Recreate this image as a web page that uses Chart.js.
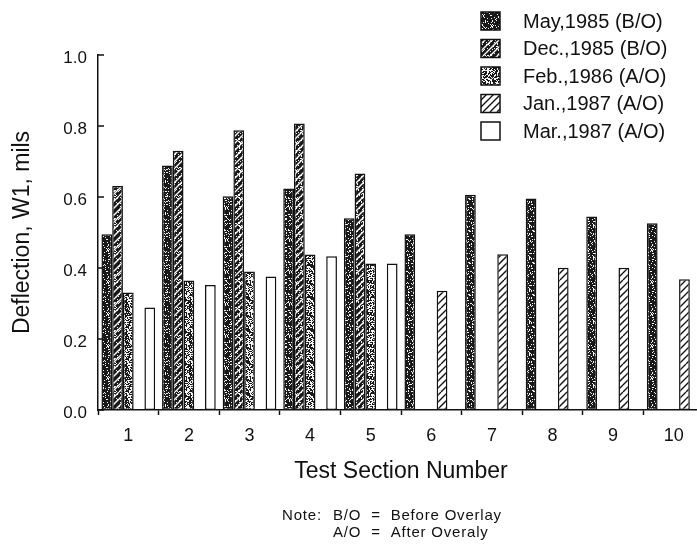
<!DOCTYPE html>
<html>
<head>
<meta charset="utf-8">
<script src="https://cdn.jsdelivr.net/npm/chart.js@4/dist/chart.umd.min.js"></script>
<style>
  html, body { margin: 0; padding: 0; background: #fff; overflow: hidden; }
  #wrap { position: relative; width: 704px; height: 548px; }
</style>
</head>
<body>
<div id="wrap"><canvas id="deflection-chart"></canvas></div>
<script>
// test sections along the x axis
const sections = ['1', '2', '3', '4', '5', '6', '7', '8', '9', '10'];

// deflection W1 (mils) per survey
const may1985 = [0.495, 0.689, 0.602, 0.624, 0.540, 0.495, 0.606, 0.596, 0.545, 0.526];
const dec1985 = [0.631, 0.730, 0.788, 0.807, 0.666, null, null, null, null, null];
const feb1986 = [0.331, 0.365, 0.390, 0.438, 0.413, null, null, null, null, null];
const jan1987 = [null, null, null, null, null, 0.336, 0.439, 0.401, 0.401, 0.368];
const mar1987 = [0.289, 0.352, 0.376, 0.433, 0.413, null, null, null, null, null];

const seriesNames = ['May,1985 (B/O)', 'Dec.,1985 (B/O)', 'Feb.,1986 (A/O)', 'Jan.,1987 (A/O)', 'Mar.,1987 (A/O)'];
const yTicks = [0, 0.2, 0.4, 0.6, 0.8, 1.0];

const FONT = 'Helvetica, Arial, "Liberation Sans", sans-serif';
const INK = '#111';

// --- fill patterns (stipple + hatching) ---
function noiseCanvas(size, density, seed) {
    const c = document.createElement('canvas');
    c.width = c.height = size;
    const g = c.getContext('2d');
    const img = g.createImageData(size, size);
    let s = seed >>> 0;
    for (let i = 0; i < size * size; i++) {
        s = (Math.imul(s, 1103515245) + 12345) >>> 0;
        const v = ((s >>> 16) / 65536) < density ? 25 : 245;
        img.data[i * 4] = img.data[i * 4 + 1] = img.data[i * 4 + 2] = v;
        img.data[i * 4 + 3] = 255;
    }
    g.putImageData(img, 0, 0);
    return c;
}

function stipple(density, seed) {
    const c = noiseCanvas(32, density, seed);
    return c.getContext('2d').createPattern(c, 'repeat');
}

function hatch(lineColor, lineWidth, baseDensity) {
    const n = 28, step = 7;
    const c = document.createElement('canvas');
    c.width = c.height = n;
    const g = c.getContext('2d');
    if (baseDensity) {
        g.drawImage(noiseCanvas(n, baseDensity, 911), 0, 0);
    } else {
        g.fillStyle = '#fff';
        g.fillRect(0, 0, n, n);
    }
    g.strokeStyle = lineColor;
    g.lineWidth = lineWidth;
    for (let o = -n; o <= n; o += step) {
        g.beginPath();
        g.moveTo(o, n);
        g.lineTo(o + n, 0);
        g.stroke();
    }
    return g.createPattern(c, 'repeat');
}

const fills = [
    stipple(0.8, 1985),           // May 1985 - dark stipple
    hatch('#fff', 1.3, 0.85),     // Dec 1985 - dark with white hatching
    stipple(0.5, 1986),           // Feb 1986 - lighter stipple
    hatch('#111', 1.3, 0),        // Jan 1987 - open hatching
    '#fff'                        // Mar 1987 - open
];

// inward y ticks, legend block and the note under the axis title
const extras = {
    id: 'extras',
    afterDraw(chart) {
        const ctx = chart.ctx;
        const y = chart.scales.y;
        ctx.save();
        ctx.strokeStyle = INK;
        ctx.lineWidth = 1.5;
        yTicks.forEach(v => {
            const py = y.getPixelForValue(v);
            ctx.beginPath();
            ctx.moveTo(y.right, py);
            ctx.lineTo(y.right + 6, py);
            ctx.stroke();
        });

        // legend
        const rows = [21, 48.5, 76, 103.5, 131];
        ctx.font = '20px ' + FONT;
        ctx.textBaseline = 'middle';
        ctx.textAlign = 'left';
        seriesNames.forEach((name, i) => {
            const cy = rows[i];
            ctx.fillStyle = fills[i];
            ctx.fillRect(481, cy - 9, 19, 18);
            ctx.strokeStyle = INK;
            ctx.lineWidth = 1.5;
            ctx.strokeRect(481, cy - 9, 19, 18);
            ctx.fillStyle = INK;
            ctx.fillText(name, 523, cy + 1);
        });

        // note
        ctx.font = '15px ' + FONT;
        if ('letterSpacing' in ctx) ctx.letterSpacing = '0.8px';
        ctx.fillText('Note:', 282, 516);
        ctx.fillText('B/O  =  Before Overlay', 333, 516);
        ctx.fillText('A/O  =  After Overaly', 333, 533);
        ctx.restore();
    }
};

const datasets = [may1985, dec1985, feb1986, jan1987, mar1987].map((data, i) => ({
    label: seriesNames[i],
    data: data,
    backgroundColor: fills[i],
    borderColor: INK,
    borderWidth: 1.5,
    borderSkipped: false
}));

new Chart(document.getElementById('deflection-chart'), {
    type: 'bar',
    data: { labels: sections, datasets: datasets },
    plugins: [extras],
    options: {
        responsive: true,
        maintainAspectRatio: false,
        animation: false,
        categoryPercentage: 0.886,
        barPercentage: 1.0,
        layout: { padding: { top: 55, right: 0, bottom: 60, left: 0 } },
        plugins: {
            legend: { display: false },
            tooltip: { enabled: false }
        },
        scales: {
            x: {
                afterFit(scale) { scale.height = 78; },
                grid: {
                    display: true,
                    drawOnChartArea: false,
                    drawTicks: true,
                    tickLength: 5,
                    tickWidth: 1.5,
                    color: INK,
                    offset: true
                },
                border: { display: true, color: INK, width: 1.5 },
                ticks: {
                    color: INK,
                    padding: 10,
                    font: { family: FONT, size: 18 }
                },
                title: {
                    display: true,
                    text: 'Test Section Number',
                    color: INK,
                    font: { family: FONT, size: 23 },
                    padding: { top: 0, bottom: 3 }
                }
            },
            y: {
                min: 0,
                max: 1.0,
                afterFit(scale) { scale.width = 98; },
                afterBuildTicks(scale) { scale.ticks = yTicks.map(v => ({ value: v })); },
                grid: { display: false, drawTicks: false },
                border: { display: true, color: INK, width: 1.5 },
                ticks: {
                    color: INK,
                    padding: 11,
                    labelOffset: 3,
                    font: { family: FONT, size: 17 },
                    callback: v => Number(v).toFixed(1)
                },
                title: {
                    display: true,
                    text: 'Deflection, W1, mils',
                    color: INK,
                    font: { family: FONT, size: 23 },
                    padding: { top: 9, bottom: 0 }
                }
            }
        }
    }
});
</script>
</body>
</html>
